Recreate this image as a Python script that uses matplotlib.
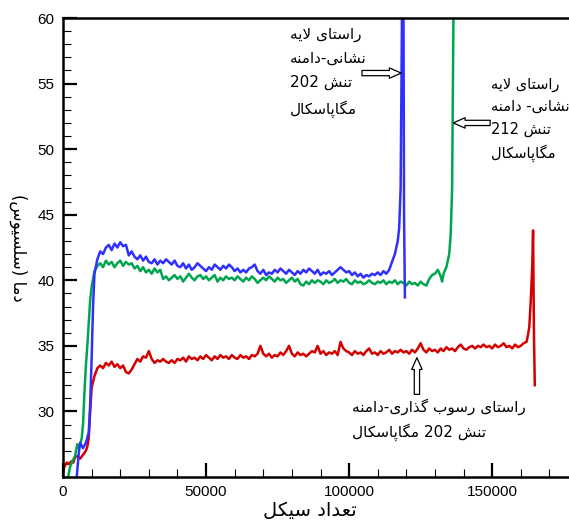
import matplotlib
matplotlib.use('Agg')
import matplotlib.pyplot as plt
from matplotlib.ticker import MultipleLocator
from matplotlib.patches import FancyArrowPatch

# ---- data ----
blue_x = [4800, 5500, 6000, 7000, 8000, 9000, 9500, 10000, 10500, 11000,
          12000, 13000, 14000, 15000, 16000, 17000, 18000, 19000, 20000, 21000,
          22000, 23000, 24000, 25000, 26000, 27000, 28000, 29000, 30000, 31000,
          32000, 33000, 34000, 35000, 36000, 37000, 38000, 39000, 40000, 41000,
          42000, 43000, 44000, 45000, 46000, 47000, 48000, 49000, 50000, 51000,
          52000, 53000, 54000, 55000, 56000, 57000, 58000, 59000, 60000, 61000,
          62000, 63000, 64000, 65000, 66000, 67000, 68000, 69000, 70000, 71000,
          72000, 73000, 74000, 75000, 76000, 77000, 78000, 79000, 80000, 81000,
          82000, 83000, 84000, 85000, 86000, 87000, 88000, 89000, 90000, 91000,
          92000, 93000, 94000, 95000, 96000, 97000, 98000, 99000, 100000, 101000,
          102000, 103000, 104000, 105000, 106000, 107000, 108000, 109000, 110000, 111000,
          112000, 113000, 114000, 115000, 116000, 117000, 117500, 118000, 118300, 118500,
          119000, 119200, 119500]
blue_y = [25.0, 26.8, 27.6, 27.2, 27.6, 28.4, 30.5, 34.0, 38.0, 40.5,
          41.6, 42.2, 42.0, 42.5, 42.7, 42.3, 42.8, 42.5, 42.9, 42.6,
          42.7, 41.9, 42.2, 41.8, 41.6, 41.9, 41.5, 41.8, 41.4, 41.3,
          41.6, 41.2, 41.5, 41.3, 41.6, 41.4, 41.2, 41.5, 41.1, 41.0,
          41.3, 40.9, 41.2, 40.8, 41.0, 41.3, 41.1, 40.9, 40.7, 41.0,
          40.8, 41.2, 41.0, 40.8, 41.1, 40.9, 41.2, 41.0, 40.7, 40.9,
          40.6, 40.8, 40.6, 40.9, 41.0, 41.2, 40.7, 40.5, 40.8, 40.4,
          40.6, 40.5, 40.8, 40.6, 40.9, 40.7, 40.5, 40.8, 40.6, 40.4,
          40.7, 40.5, 40.8, 40.6, 40.9, 40.7, 40.5, 40.8, 40.4, 40.6,
          40.5, 40.7, 40.4, 40.6, 40.8, 41.0, 40.8, 40.6, 40.7, 40.4,
          40.6, 40.3, 40.5, 40.2, 40.4, 40.3, 40.5, 40.4, 40.6, 40.4,
          40.7, 40.5, 40.8, 41.4, 42.0, 43.0, 44.0, 47.0, 55.0, 61.0,
          61.0, 45.0, 38.7]

green_x = [1800, 2500, 3500, 4200, 5000, 5500, 6500, 7000, 7500, 8000,
           8500, 9000, 9500, 10000, 11000, 12000, 13000, 14000, 15000, 16000,
           17000, 18000, 19000, 20000, 21000, 22000, 23000, 24000, 25000, 26000,
           27000, 28000, 29000, 30000, 31000, 32000, 33000, 34000, 35000, 36000,
           37000, 38000, 39000, 40000, 41000, 42000, 43000, 44000, 45000, 46000,
           47000, 48000, 49000, 50000, 51000, 52000, 53000, 54000, 55000, 56000,
           57000, 58000, 59000, 60000, 61000, 62000, 63000, 64000, 65000, 66000,
           67000, 68000, 69000, 70000, 71000, 72000, 73000, 74000, 75000, 76000,
           77000, 78000, 79000, 80000, 81000, 82000, 83000, 84000, 85000, 86000,
           87000, 88000, 89000, 90000, 91000, 92000, 93000, 94000, 95000, 96000,
           97000, 98000, 99000, 100000, 101000, 102000, 103000, 104000, 105000, 106000,
           107000, 108000, 109000, 110000, 111000, 112000, 113000, 114000, 115000, 116000,
           117000, 118000, 119000, 120000, 121000, 122000, 123000, 124000, 125000, 126000,
           127000, 128000, 129000, 130000, 131000, 132000, 132500, 133000, 134000, 135000,
           135500, 136000, 136300, 136500]
green_y = [25.0, 25.8, 26.3, 26.6, 27.5, 27.2, 27.9, 29.0, 31.5, 33.5,
           35.0, 36.8, 38.5, 39.5, 40.7, 41.1, 41.3, 41.0, 41.5, 41.2,
           41.4, 41.0, 41.3, 41.5, 41.1, 41.4, 41.2, 41.3, 40.9, 41.1,
           40.7, 41.0, 40.6, 40.8, 40.5, 40.9, 40.6, 40.8, 40.1, 40.3,
           40.0, 40.2, 40.4, 40.1, 40.3, 39.9, 40.2, 40.5, 40.2, 40.0,
           40.3, 40.4, 40.1, 40.3, 40.0, 40.2, 40.4, 39.9, 40.2, 40.0,
           40.3, 40.1, 40.2, 40.0, 40.3, 40.1, 39.9, 40.2, 40.0, 40.3,
           40.1, 39.8, 40.0, 40.2, 40.0, 40.3, 40.1, 39.9, 40.2, 40.0,
           40.1, 39.8, 40.0, 40.2, 39.9, 40.1, 39.7, 39.6, 39.9, 39.7,
           40.0, 39.8, 40.0, 39.9, 39.7, 40.0, 39.8, 39.9, 40.1, 39.8,
           40.0, 39.9, 40.1, 39.8, 39.7, 40.0, 39.8, 39.9, 39.7, 39.8,
           40.0, 39.8, 39.7, 39.9, 39.8, 40.0, 39.7, 39.9, 39.8, 40.0,
           39.7, 39.9, 39.8, 39.6, 39.9, 39.7, 39.8, 39.6, 39.9, 39.7,
           39.6, 40.1, 40.4, 40.5, 40.8, 40.3, 39.9, 40.5, 41.0, 42.0,
           43.5, 47.0, 55.0, 61.0]

red_x = [0, 500, 1300, 2000, 3000, 3600, 4200, 5000, 6000, 7000,
         8000, 8500, 9000, 9500, 10000, 11000, 12000, 13000, 14000, 15000,
         16000, 17000, 18000, 19000, 20000, 21000, 22000, 23000, 24000, 25000,
         26000, 27000, 28000, 29000, 30000, 31000, 32000, 33000, 34000, 35000,
         36000, 37000, 38000, 39000, 40000, 41000, 42000, 43000, 44000, 45000,
         46000, 47000, 48000, 49000, 50000, 51000, 52000, 53000, 54000, 55000,
         56000, 57000, 58000, 59000, 60000, 61000, 62000, 63000, 64000, 65000,
         66000, 67000, 68000, 69000, 70000, 71000, 72000, 73000, 74000, 75000,
         76000, 77000, 78000, 79000, 80000, 81000, 82000, 83000, 84000, 85000,
         86000, 87000, 88000, 89000, 90000, 91000, 92000, 93000, 94000, 95000,
         96000, 97000, 98000, 99000, 100000, 101000, 102000, 103000, 104000, 105000,
         106000, 107000, 108000, 109000, 110000, 111000, 112000, 113000, 114000, 115000,
         116000, 117000, 118000, 119000, 120000, 121000, 122000, 123000, 124000, 125000,
         126000, 127000, 128000, 129000, 130000, 131000, 132000, 133000, 134000, 135000,
         136000, 137000, 138000, 139000, 140000, 141000, 142000, 143000, 144000, 145000,
         146000, 147000, 148000, 149000, 150000, 151000, 152000, 153000, 154000, 155000,
         156000, 157000, 158000, 159000, 160000, 161000, 162000, 162500, 163000, 163500,
         164000, 164300, 164600, 164900]
red_y = [25.3, 25.8, 26.1, 26.0, 26.2, 26.1, 26.5, 26.6, 26.4, 26.7,
         27.0, 27.3, 28.0, 30.0, 31.8, 32.7, 33.3, 33.5, 33.3, 33.7,
         33.5, 33.8, 33.4, 33.6, 33.3, 33.5, 33.0, 32.9, 33.2, 33.6,
         34.0, 33.8, 34.2, 34.1, 34.6, 34.0, 33.7, 33.9, 33.8, 34.0,
         33.8, 33.7, 33.9, 33.7, 34.0, 33.9, 34.1, 33.8, 34.2, 34.0,
         34.1, 33.9, 34.2, 34.0, 34.3, 34.1, 33.9, 34.2, 34.0, 34.3,
         34.1, 34.2, 34.0, 34.3, 34.1, 34.0, 34.3, 34.1, 34.2, 34.0,
         34.3, 34.2, 34.4, 35.0, 34.4, 34.2, 34.4, 34.1, 34.3, 34.2,
         34.5, 34.3, 34.6, 35.0, 34.4, 34.2, 34.5, 34.3, 34.4, 34.2,
         34.4, 34.6, 34.5, 35.0, 34.4, 34.6, 34.3, 34.5, 34.4, 34.6,
         34.3, 35.3, 34.8, 34.6, 34.5, 34.3, 34.6, 34.4, 34.5, 34.3,
         34.6, 34.8, 34.4, 34.5, 34.3, 34.6, 34.4, 34.5, 34.7, 34.4,
         34.6, 34.5, 34.7, 34.5, 34.6, 34.4, 34.7, 34.5, 34.8, 35.2,
         34.7, 34.5, 34.8, 34.6, 34.7, 34.5, 34.8, 34.6, 34.9, 34.7,
         34.8, 34.6, 34.9, 35.1, 34.8, 34.7, 34.9, 35.0, 34.8, 35.0,
         34.9, 35.1, 34.9, 35.0, 34.8, 35.1, 34.9, 35.0, 35.2, 34.9,
         35.0, 34.8, 35.1, 34.9, 35.0, 35.2, 35.3, 35.8, 36.5, 38.5,
         41.0, 43.8, 36.0, 32.0]

x_label = 'تعداد سیکل'
y_label = 'دما (سلسیوس)'
note_blue = ['راستای لایه', 'نشانی-دامنه', 'تنش 202', 'مگاپاسکال']
note_green = ['راستای لایه', 'نشانی- دامنه', 'تنش 212', 'مگاپاسکال']
note_red = ['راستای رسوب گذاری-دامنه', 'تنش 202 مگاپاسکال']


# matplotlib has no arabic shaping, so do it by hand with presentation forms
FORMS = {
    'ا': (0xFE8D, 0xFE8E, None, None),
    'د': (0xFEA9, 0xFEAA, None, None),
    'ذ': (0xFEAB, 0xFEAC, None, None),
    'ر': (0xFEAD, 0xFEAE, None, None),
    'ز': (0xFEAF, 0xFEB0, None, None),
    'و': (0xFEED, 0xFEEE, None, None),
    'ب': (0xFE8F, 0xFE90, 0xFE91, 0xFE92),
    'پ': (0xFB56, 0xFB57, 0xFB58, 0xFB59),
    'ت': (0xFE95, 0xFE96, 0xFE97, 0xFE98),
    'س': (0xFEB1, 0xFEB2, 0xFEB3, 0xFEB4),
    'ش': (0xFEB5, 0xFEB6, 0xFEB7, 0xFEB8),
    'ع': (0xFEC9, 0xFECA, 0xFECB, 0xFECC),
    'ک': (0xFB8E, 0xFB8F, 0xFB90, 0xFB91),
    'گ': (0xFB92, 0xFB93, 0xFB94, 0xFB95),
    'ل': (0xFEDD, 0xFEDE, 0xFEDF, 0xFEE0),
    'م': (0xFEE1, 0xFEE2, 0xFEE3, 0xFEE4),
    'ن': (0xFEE5, 0xFEE6, 0xFEE7, 0xFEE8),
    'ه': (0xFEE9, 0xFEEA, 0xFEEB, 0xFEEC),
    'ی': (0xFBFC, 0xFBFD, 0xFBFE, 0xFBFF),
}


def joins_next(c):
    return c in FORMS and FORMS[c][2] is not None


def fa(s):
    out = []
    i = 0
    while i < len(s):
        c = s[i]
        prev = s[i - 1] if i > 0 else ''
        nxt = s[i + 1] if i + 1 < len(s) else ''
        if c not in FORMS:
            out.append(c)
            i += 1
            continue
        p = joins_next(prev)
        if c == 'ل' and nxt == 'ا':
            out.append(chr(0xFEFC if p else 0xFEFB))
            i += 2
            continue
        n = nxt in FORMS and joins_next(c)
        f = FORMS[c]
        if p and n:
            out.append(chr(f[3]))
        elif p:
            out.append(chr(f[1]))
        elif n:
            out.append(chr(f[2]))
        else:
            out.append(chr(f[0]))
        i += 1
    # visual order: reverse, keep digit runs left to right, mirror brackets
    vis = out[::-1]
    res = []
    run = []
    for c in vis:
        if c.isdigit():
            run.append(c)
        else:
            res += run[::-1]
            run = []
            res.append({'(': ')', ')': '('}.get(c, c))
    res += run[::-1]
    return ''.join(res)


plt.rcParams['font.family'] = ['Liberation Sans', 'DejaVu Sans']

fig = plt.figure(figsize=(5.69, 5.2), dpi=100)
ax = fig.add_axes([63 / 569., 43 / 520., 515 / 569., 459 / 520.])

ax.plot(red_x, red_y, color='#d40000', lw=1.8)
ax.plot(green_x, green_y, color='#00a550', lw=1.8)
ax.plot(blue_x, blue_y, color='#2f2fff', lw=1.8)

ax.set_xlim(0, 180000)
ax.set_ylim(25, 60)
ax.xaxis.set_major_locator(MultipleLocator(50000))
ax.xaxis.set_minor_locator(MultipleLocator(10000))
ax.yaxis.set_major_locator(MultipleLocator(5))
ax.yaxis.set_minor_locator(MultipleLocator(1))
ax.set_yticks([30, 35, 40, 45, 50, 55, 60])
ax.tick_params(which='major', direction='in', length=10, width=1.6, labelsize=11, pad=6)
ax.tick_params(which='minor', direction='in', length=6, width=0.8)
for s in ax.spines.values():
    s.set_linewidth(1.8)

ax.set_xlabel(fa(x_label), fontsize=14, family='DejaVu Sans')
ax.xaxis.set_label_coords(0.48, -0.052)
ax.set_ylabel(fa(y_label), fontsize=12, family='DejaVu Sans', rotation=-90, va='center')
ax.yaxis.set_label_coords(-0.088, 0.5)

ax.text(79400, 59.3, '\n'.join(fa(t) for t in note_blue), fontsize=11,
        family='DejaVu Sans', va='top', ha='left', linespacing=1.75)
ax.text(149600, 55.5, '\n'.join(fa(t) for t in note_green), fontsize=10.5,
        family='DejaVu Sans', va='top', ha='left', linespacing=1.6)
ax.text(101000, 31.0, '\n'.join(fa(t) for t in note_red), fontsize=11,
        family='DejaVu Sans', va='top', ha='left', linespacing=1.65)

arrow_style = 'simple,head_width=7.5,head_length=8.5,tail_width=3.8'
for start, end in [((104500, 55.8), (118200, 55.8)),
                   ((149300, 52.0), (136400, 52.0)),
                   ((123700, 31.3), (123700, 34.1))]:
    ax.add_patch(FancyArrowPatch(start, end, arrowstyle=arrow_style, mutation_scale=1,
                                 facecolor='white', edgecolor='black', lw=0.9,
                                 shrinkA=0, shrinkB=0, zorder=5))

fig.savefig('out.png', dpi=100)
